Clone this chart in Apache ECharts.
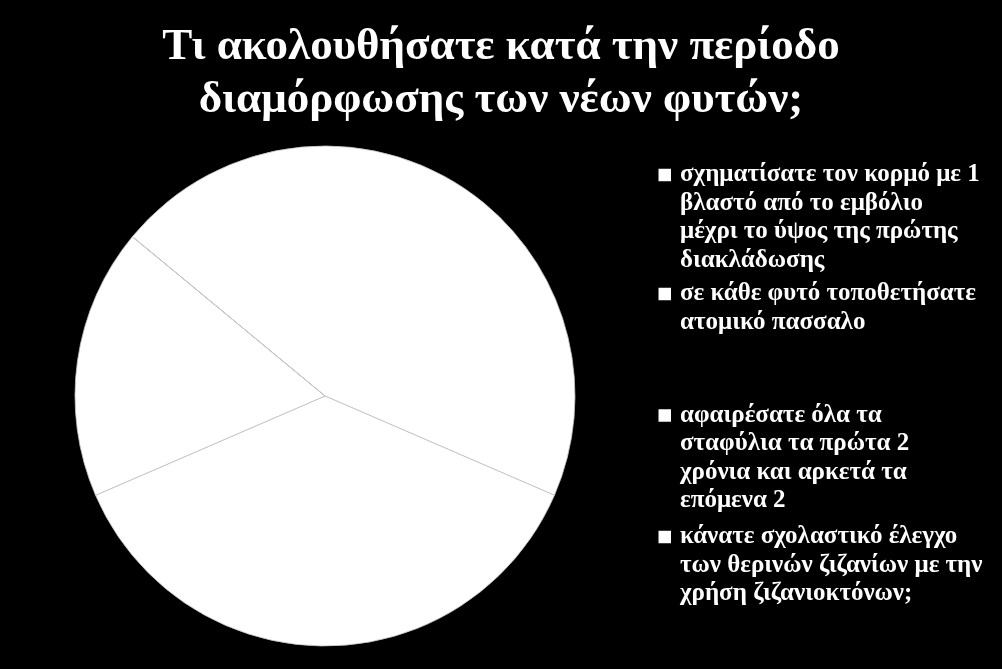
<!DOCTYPE html>
<html>
<meta charset="UTF-8">
<title>pie-greek</title>
<style type="text/css">
    html,
    body {
        margin: 0px;
        height: 100%;
        width: 100%;
        background: #000;
    }

    #chart {
        width: 1002px;
        height: 669px;
    }
</style>
<script src="https://cdn.jsdelivr.net/npm/echarts@6/dist/echarts.min.js"></script>

<body>
    <div id="chart"></div>
    <script>

        const titleText = 'Τι ακολουθήσατε κατά την περίοδο\nδιαμόρφωσης των νέων φυτών;';

        // legend entries, line breaks as in the picture
        const categories = [
            'σχηματίσατε τον κορμό με 1\nβλαστό από το εμβόλιο\nμέχρι το ύψος της πρώτης\nδιακλάδωσης',
            'σε κάθε φυτό τοποθετήσατε\nατομικό πασσαλο',
            'αφαιρέσατε όλα τα\nσταφύλια τα πρώτα 2\nχρόνια και αρκετά τα\nεπόμενα 2',
            'κάνατε σχολαστικό έλεγχο\nτων θερινών ζιζανίων με την\nχρήση ζιζανιοκτόνων;'
        ];
        // percentages
        const values = [45.5, 37, 17.5, 0];

        // y of each legend square (centre)
        const markerY = [175, 294, 415.5, 537];
        const lineH = 28.5;
        const iconSize = 12.5;

        const chart = echarts.init(document.querySelector('#chart'));

        // legend text is centred on its square, so blank lines are put
        // in front to push the first text line onto the square
        const legends = categories.map((name, i) => {
            const n = name.split('\n').length;
            return {
                data: [name],
                left: 658.5,
                top: markerY[i] - (2 * n - 1) * lineH / 2,
                padding: 0,
                icon: 'rect',
                itemWidth: iconSize,
                itemHeight: iconSize,
                selectedMode: false,
                itemStyle: { color: '#fff', borderWidth: 0 },
                formatter: (nm) => '\n'.repeat(n - 1) + nm,
                textStyle: {
                    color: '#fff',
                    fontFamily: 'Liberation Serif',
                    fontWeight: 'bold',
                    fontSize: 25,
                    lineHeight: lineH,
                    padding: [0, 0, 0, 4]
                }
            };
        });

        const options = {
            backgroundColor: '#000',
            animation: false,
            title: {
                text: titleText,
                left: 'center',
                top: 16,
                textStyle: {
                    color: '#fff',
                    fontFamily: 'Liberation Serif',
                    fontWeight: 'bold',
                    fontSize: 45,
                    lineHeight: 53
                }
            },
            legend: legends,
            series: [
                {
                    type: 'pie',
                    center: [325, 396],
                    radius: 250,
                    startAngle: 140.4,
                    label: { show: false },
                    labelLine: { show: false },
                    itemStyle: {
                        color: '#fff',
                        borderColor: '#c4c4c4',
                        borderWidth: 0.8
                    },
                    emphasis: { disabled: true },
                    data: categories.map((name, i) => ({ name: name, value: values[i] }))
                }
            ]
        };
        chart.setOption(options);

    </script>
</body>

</html>
